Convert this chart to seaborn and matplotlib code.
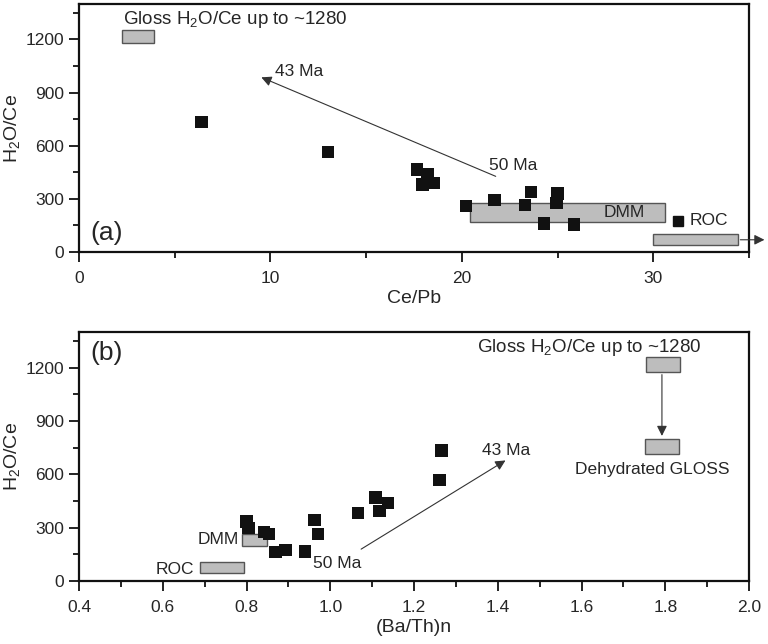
import numpy as np
import pandas as pd
import seaborn as sns
import matplotlib.pyplot as plt
from matplotlib.patches import Rectangle

# Panel (a): Ce/Pb vs H2O/Ce
ce_pb = [6.4, 13.0, 17.65, 18.2, 17.95, 18.55, 20.2, 21.7, 23.3, 23.6, 25.0, 24.95, 24.3, 25.85]
h2o_ce_a = [733, 566, 466, 438, 382, 391, 259, 293, 265, 340, 331, 275, 162, 156]

# Panel (b): (Ba/Th)n vs H2O/Ce
ba_th = [0.80, 0.805, 0.842, 0.853, 0.869, 0.893, 0.94, 0.962, 0.97, 1.066, 1.108, 1.118, 1.138, 1.261, 1.266]
h2o_ce_b = [334, 297, 274, 263, 162, 175, 165, 344, 263, 381, 469, 394, 438, 569, 734]

# reservoir boxes: (x0, x1, y0, y1)
boxes_a = {'gloss': (2.25, 3.9, 1180, 1255), 'dmm': (20.4, 30.6, 171, 275), 'roc': (30.0, 34.4, 38, 100)}
boxes_b = {'gloss': (1.754, 1.836, 1176, 1258), 'dehyd': (1.751, 1.833, 715, 800),
           'dmm': (0.79, 0.849, 197, 263), 'roc': (0.688, 0.793, 43, 105)}

sns.set_style('ticks')
plt.rcParams['font.family'] = ['Liberation Sans', 'DejaVu Sans']
plt.rcParams['mathtext.fontset'] = 'custom'
plt.rcParams['mathtext.rm'] = 'Liberation Sans'
plt.rcParams['mathtext.it'] = 'Liberation Sans'
plt.rcParams['mathtext.default'] = 'rm'

fig = plt.figure(figsize=(7.68, 6.44), dpi=100)
ax1 = fig.add_axes([0.1029, 0.6087, 0.8724, 0.3851])
ax2 = fig.add_axes([0.1029, 0.0978, 0.8724, 0.3867])

box_kw = dict(facecolor='#bdbdbd', edgecolor='#555555', linewidth=1.0, zorder=2)
arrow_kw = dict(arrowstyle='-|>', color='#333333', lw=0.8, mutation_scale=15)
TXT = 12.5


def style_axes(ax):
    for s in ax.spines.values():
        s.set_linewidth(1.6)
        s.set_color('#111111')
    ax.set_ylim(0, 1400)
    ax.set_yticks(np.arange(0, 1201, 300))
    ax.set_yticks(np.arange(0, 1400, 150), minor=True)
    ax.tick_params(which='major', direction='out', length=7.5, width=1.3, labelsize=12.5, color='#111111')
    ax.tick_params(which='minor', direction='out', length=4.5, width=1.3, color='#111111')
    ax.tick_params(axis='x', which='major', pad=6)
    ax.tick_params(axis='y', which='major', pad=3)
    ax.set_ylabel('H$_2$O/Ce', fontsize=14, labelpad=3)


def add_box(ax, b):
    x0, x1, y0, y1 = b
    ax.add_patch(Rectangle((x0, y0), x1 - x0, y1 - y0, **box_kw))


# ---- panel (a)
df_a = pd.DataFrame({'x': ce_pb, 'y': h2o_ce_a})
for b in boxes_a.values():
    add_box(ax1, b)
sns.scatterplot(data=df_a, x='x', y='y', marker='s', s=80, color='#111111', edgecolor='none', ax=ax1, zorder=3)
ax1.plot([31.3], [175], marker='s', ms=7.5, color='#111111', ls='none', zorder=3)
style_axes(ax1)
ax1.set_xlim(0, 35)
ax1.set_xticks([0, 10, 20, 30])
ax1.set_xticks(np.arange(0, 36, 5), minor=True)
ax1.set_xlabel('Ce/Pb', fontsize=14, labelpad=3)
ax1.annotate('', xy=(9.39, 992), xytext=(21.9, 421), arrowprops=arrow_kw)
ax1.annotate('', xy=(35.95, 69), xytext=(34.4, 69), arrowprops=arrow_kw, annotation_clip=False)
ax1.text(10.25, 1020, '43 Ma', va='center', fontsize=TXT)
ax1.text(21.4, 490, '50 Ma', va='center', fontsize=TXT)
ax1.text(2.28, 1314, 'Gloss H$_2$O/Ce up to ~1280', va='center', fontsize=13.5)
ax1.text(27.4, 222, 'DMM', va='center', fontsize=TXT)
ax1.text(31.9, 175, 'ROC', va='center', fontsize=TXT)
ax1.text(0.57, 110, '(a)', va='center', fontsize=19)

# ---- panel (b)
df_b = pd.DataFrame({'x': ba_th, 'y': h2o_ce_b})
for b in boxes_b.values():
    add_box(ax2, b)
sns.scatterplot(data=df_b, x='x', y='y', marker='s', s=80, color='#111111', edgecolor='none', ax=ax2, zorder=3)
style_axes(ax2)
ax2.set_xlim(0.4, 2.0)
ax2.set_xticks(np.arange(0.4, 2.01, 0.2))
ax2.set_xticks(np.arange(0.4, 2.01, 0.1), minor=True)
ax2.xaxis.set_major_formatter(plt.FormatStrFormatter('%.1f'))
ax2.set_xlabel('(Ba/Th)n', fontsize=14, labelpad=3)
ax2.annotate('', xy=(1.424, 686), xytext=(1.068, 171), arrowprops=arrow_kw)
ax2.annotate('', xy=(1.792, 800), xytext=(1.792, 1176), arrowprops=arrow_kw)
ax2.text(1.363, 734, '43 Ma', va='center', fontsize=TXT)
ax2.text(0.958, 100, '50 Ma', va='center', fontsize=TXT)
ax2.text(0.781, 231, 'DMM', va='center', ha='right', fontsize=TXT)
ax2.text(0.676, 66, 'ROC', va='center', ha='right', fontsize=TXT)
ax2.text(1.351, 1311, 'Gloss H$_2$O/Ce up to ~1280', va='center', fontsize=13.5)
ax2.text(1.585, 629, 'Dehydrated GLOSS', va='center', fontsize=TXT)
ax2.text(0.426, 1283, '(b)', va='center', fontsize=19)

fig.savefig('out.png', dpi=100)
